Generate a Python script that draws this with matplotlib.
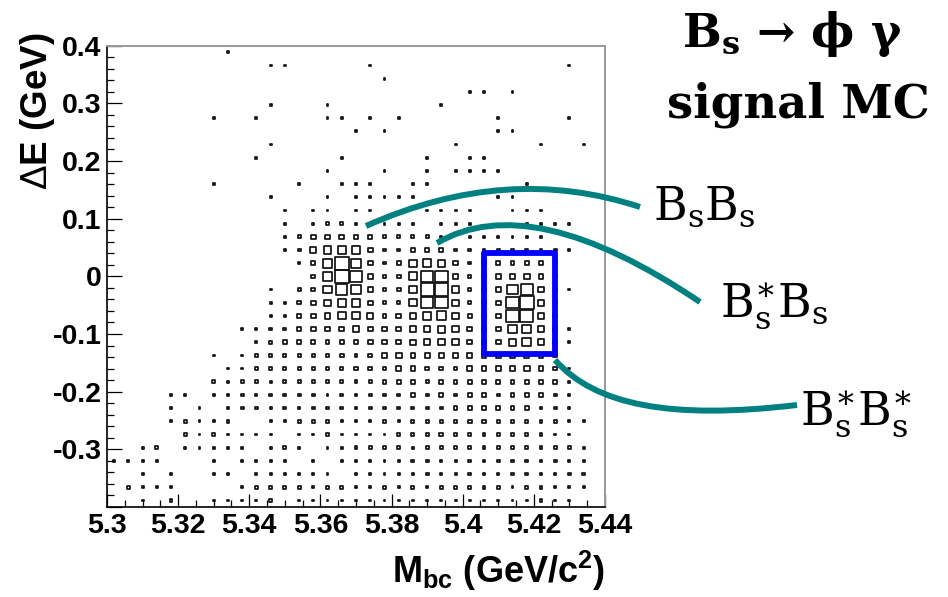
import matplotlib

matplotlib.use("Agg")
import matplotlib.pyplot as plt
import numpy as np
from matplotlib.collections import PatchCollection
from matplotlib.patches import PathPatch, Rectangle
from matplotlib.path import Path

# binning of the Mbc vs Delta E histogram
MBC_RANGE = (5.30, 5.44)
DE_RANGE = (-0.40, 0.40)
N_BINS = 35

# bin contents, one string per Delta E row from the top (0.4) down to -0.4,
# Mbc increasing to the right; '.' = empty, hex digit = entries
DE_ROWS = [
    "..... ...1. ..... ..... ..... ..... .....",
    "..... ..... .11.. ...1. ..... ..... ..1..",
    "..... ..... ..... ....1 ..... ..... .....",
    "..... ..... ..... ..... ..... 11.1. .....",
    "..... ..... .1... 1.... ...1. ..... .....",
    "..... ..1.. 1.... 11.1. 1.... ..1.. ..1..",
    "..... ..... ..... ..1.1 ..... ..11. .....",
    "..... ..... .1... ..... ....1 ..... 1..1.",
    "..... ..... 1.... .1... ..1.. 11... .....",
    "..... ..... ..... 1...1 ..1.1 111.. .....",
    "..... ..1.. ...1. .111. .11.. ....1 .....",
    "..... ..... .1... 1.111 11... ..11. .....",
    "..... ..... ..1.1 1.11. ..111 1..11 1....",
    "..... ..... ..1.1 221.1 11.11 1...1 111..",
    "..... ..... ..124 44432 2221. 11111 1....",
    "..... ..... ..125 78742 23332 22222 221..",
    "..... ..... ...13 9e942 37874 23333 32...",
    "..... ..... ....3 9eb42 38cc4 23455 42...",
    "..... ..... .1.23 8ba42 37dd6 234ac 521..",
    "..... ..... .1134 68842 27cc6 234ce 62...",
    "..... ..... .1134 57753 45896 344cd 63...",
    "..... ....1 12234 44544 45676 44488 631..",
    "..... ..... 12333 33444 45666 44478 631..",
    "..... ..1.1 22222 23234 54444 44444 43...",
    "..... ...11 22222 22333 44333 44445 431..",
    "..... ..212 21222 22223 33233 33333 331..",
    "....1 1.112 12222 12222 23232 33233 321..",
    "....2 .1.22 21212 22122 22223 33333 221..",
    "....1 2112. .1122 21112 12222 33222 2211.",
    "..... 21211 11.11 21111 22232 22222 211..",
    "..12. 11111 .121. 11222 21222 22222 2221.",
    "1111. ..1.1 111.1 .1211 12211 22222 2211.",
    "..1.2 ..11. 11111 1.211 11211 22122 1122.",
    ".2111 ....1 22221 22112 12122 22212 2111.",
    "..1.2 ..111 12.11 11111 11111 11111 211..",
]

X_TICKS = [5.30, 5.32, 5.34, 5.36, 5.38, 5.40, 5.42, 5.44]
X_TICK_LABELS = ["5.3", "5.32", "5.34", "5.36", "5.38", "5.4", "5.42", "5.44"]
Y_TICKS = [-0.4, -0.3, -0.2, -0.1, 0.0, 0.1, 0.2, 0.3, 0.4]
Y_TICK_LABELS = ["", "-0.3", "-0.2", "-0.1", "0", "0.1", "0.2", "0.3", "0.4"]

# signal region drawn around the Bs* Bs* peak
SIG_MBC = (5.406, 5.426)
SIG_DE = (-0.135, 0.040)

LABELS = [r"$\mathrm{B_sB_s}$", r"$\mathrm{B_s^{\ast}B_s}$", r"$\mathrm{B_s^{\ast}B_s^{\ast}}$"]

plt.rcParams["font.family"] = ["Liberation Sans", "DejaVu Sans"]
plt.rcParams["mathtext.fontset"] = "custom"
plt.rcParams["mathtext.rm"] = "Liberation Sans"
plt.rcParams["mathtext.bf"] = "Liberation Sans:bold"
plt.rcParams["mathtext.it"] = "Liberation Sans:italic"

W, H = 948, 597
fig = plt.figure(figsize=(W / 100, H / 100), dpi=100)
ax = fig.add_axes([107 / W, 1 - 507 / H, 498 / W, 461.3 / H])

counts = np.array(
    [[0 if ch == "." else int(ch, 16) for ch in row.replace(" ", "")] for row in DE_ROWS]
)[::-1]
x_edges = np.linspace(*MBC_RANGE, N_BINS + 1)
y_edges = np.linspace(*DE_RANGE, N_BINS + 1)
xc = 0.5 * (x_edges[:-1] + x_edges[1:])
yc = 0.5 * (y_edges[:-1] + y_edges[1:])
bw = x_edges[1] - x_edges[0]
bh = y_edges[1] - y_edges[0]

# box size grows with the bin content, largest bin fills the cell
boxes = []
for j, i in zip(*np.nonzero(counts)):
    s = (counts[j, i] + 1.0) / 15.0
    boxes.append(Rectangle((xc[i] - 0.5 * bw * s, yc[j] - 0.5 * bh * s), bw * s, bh * s))
ax.add_collection(PatchCollection(boxes, facecolor="none", edgecolor="#111111", linewidth=1.25))

ax.add_patch(Rectangle((SIG_MBC[0], SIG_DE[0]), SIG_MBC[1] - SIG_MBC[0], SIG_DE[1] - SIG_DE[0],
                       fill=False, edgecolor="#0000ff", linewidth=4.2, joinstyle="round",
                       zorder=5, clip_on=False))

ax.set_xlim(*MBC_RANGE)
ax.set_ylim(*DE_RANGE)
ax.set_xticks(X_TICKS)
ax.set_xticklabels(X_TICK_LABELS, fontweight="bold", fontsize=20.5)
ax.set_yticks(Y_TICKS)
ax.set_yticklabels(Y_TICK_LABELS, fontweight="bold", fontsize=20.5)
ax.set_xticks(np.arange(MBC_RANGE[0], MBC_RANGE[1] + 1e-9, 0.005), minor=True)
ax.set_yticks(np.arange(DE_RANGE[0], DE_RANGE[1] + 1e-9, 0.02), minor=True)
ax.tick_params(axis="x", which="major", direction="in", length=9.5, width=0.9, pad=4)
ax.tick_params(axis="y", which="major", direction="in", length=10.8, width=0.9, pad=4)
ax.tick_params(which="minor", direction="in", length=5, width=0.9)
for side in ("top", "right"):
    ax.spines[side].set_color("#9a9a9a")
    ax.spines[side].set_linewidth(1.4)
for side in ("left", "bottom"):
    ax.spines[side].set_color("black")
    ax.spines[side].set_linewidth(1.2)

# overlay in pixel units for titles, labels and the connector curves
ov = fig.add_axes([0, 0, 1, 1])
ov.set_xlim(0, W)
ov.set_ylim(H, 0)
ov.axis("off")
ov.patch.set_visible(False)

ov.text(605, 583, r"$\mathbf{M_{bc}}$ (GeV/c$^{\mathbf{2}}$)", fontsize=26, fontweight="bold",
        ha="right", va="baseline", math_fontfamily="custom")
ov.text(47, 33, r"$\mathrm{\Delta}$E (GeV)", fontsize=26.5, fontweight="bold", rotation=90,
        rotation_mode="anchor", ha="right", va="baseline", math_fontfamily="custom")

serif = ["DejaVu Serif", "DejaVu Sans"]
ov.text(792, 47, r"$\mathbf{B_s}$ → ϕ γ", fontsize=33, fontweight="bold", family=serif,
        ha="center", va="baseline", math_fontfamily="dejavuserif")
ov.text(798, 118, "signal MC", fontsize=33.5, fontweight="bold", family=serif,
        ha="center", va="baseline")

teal = "#008080"
curves = [
    Path([(366, 226), (507, 163), (640, 207)], [Path.MOVETO, Path.CURVE3, Path.CURVE3]),
    Path([(437, 243), (531, 188), (700, 302)], [Path.MOVETO, Path.CURVE3, Path.CURVE3]),
    Path([(555, 360), (595, 405), (670, 420), (797, 405)],
         [Path.MOVETO, Path.CURVE4, Path.CURVE4, Path.CURVE4]),
]
for p in curves:
    ov.add_patch(PathPatch(p, facecolor="none", edgecolor=teal, linewidth=4.3, capstyle="butt"))

for (x, y), lab in zip([(653, 220), (720, 317), (800, 425)], LABELS):
    ov.text(x, y, lab, fontsize=33, family=serif, ha="left", va="baseline",
            math_fontfamily="dejavuserif")

fig.savefig("out.png", dpi=100)
plt.close(fig)
